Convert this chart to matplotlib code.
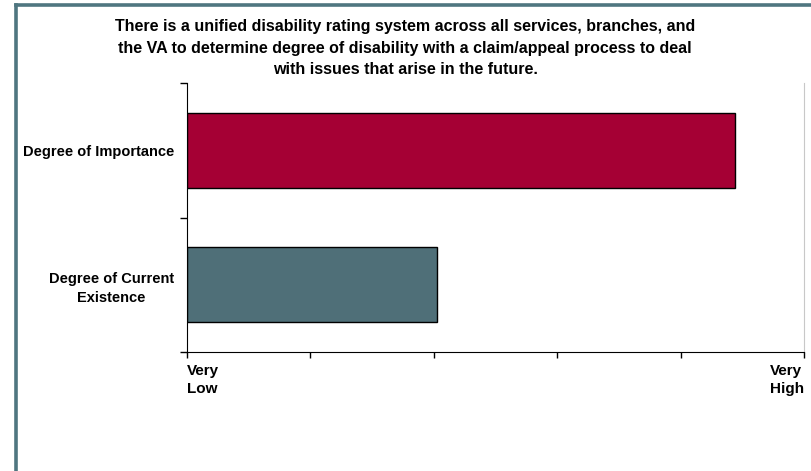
import matplotlib
matplotlib.use("Agg")
import matplotlib.pyplot as plt
from matplotlib.lines import Line2D

plt.rcParams["font.family"] = ["Liberation Sans", "DejaVu Sans"]

title = ("There is a unified disability rating system across all services, branches, and\n"
         "the VA to determine degree of disability with a claim/appeal process to deal\n"
         "with issues that arise in the future.")
categories = ["Degree of Current\nExistence", "Degree of Importance"]
values = [2.03, 4.44]
colors = ["#4f6f78", "#a50034"]
scale_ticks = [0, 1, 2, 3, 4, 5]
scale_labels = ["Very\nLow", "", "", "", "", "Very\nHigh"]

fig = plt.figure(figsize=(8.11, 4.71), dpi=100)
ax = fig.add_axes([186.7 / 811, 1 - 352 / 471, (804 - 186.7) / 811, (352 - 83) / 471])

pos = list(range(len(categories)))
ax.barh(pos, values, height=0.56, color=colors, edgecolor="black", linewidth=1.0)

ax.set_xlim(scale_ticks[0], scale_ticks[-1])
ax.set_ylim(-0.5, len(categories) - 0.5)

# category boundaries get the tick marks, labels sit between them
ax.set_yticks([p - 0.5 for p in pos] + [pos[-1] + 0.5])
ax.set_yticklabels([])
ax.set_yticks(pos, minor=True)
ax.set_yticklabels(categories, minor=True, fontsize=10.5, fontweight="bold",
                   multialignment="center", linespacing=1.4)
ax.tick_params(axis="y", which="minor", length=0, pad=9)
ax.tick_params(axis="y", which="major", length=5, width=1, direction="out")

ax.set_xticks(scale_ticks)
ax.set_xticklabels(scale_labels, fontsize=11, fontweight="bold", linespacing=1.35)
ax.tick_params(axis="x", length=4, width=1, direction="out", pad=5)
xl = ax.get_xticklabels()
xl[0].set_ha("left")
xl[0].set_multialignment("left")
xl[-1].set_ha("right")
xl[-1].set_multialignment("left")

ax.spines["top"].set_visible(False)
ax.spines["right"].set_color("#c8c8c8")
ax.spines["left"].set_color("black")
ax.spines["bottom"].set_color("black")

fig.text(405 / 811, 1 - 48 / 471, title, ha="center", va="center", fontsize=11.5,
         fontweight="bold", linespacing=1.55)

# frame around the slide
bc = "#4f7680"
fig.add_artist(Line2D([15.5 / 811, 15.5 / 811], [0, 1 - 4.5 / 471], color=bc,
                      linewidth=2.6, transform=fig.transFigure, solid_capstyle="projecting"))
fig.add_artist(Line2D([15.5 / 811, 1], [1 - 4.5 / 471, 1 - 4.5 / 471], color=bc,
                      linewidth=2.6, transform=fig.transFigure, solid_capstyle="projecting"))

fig.savefig("out.png", dpi=100)
